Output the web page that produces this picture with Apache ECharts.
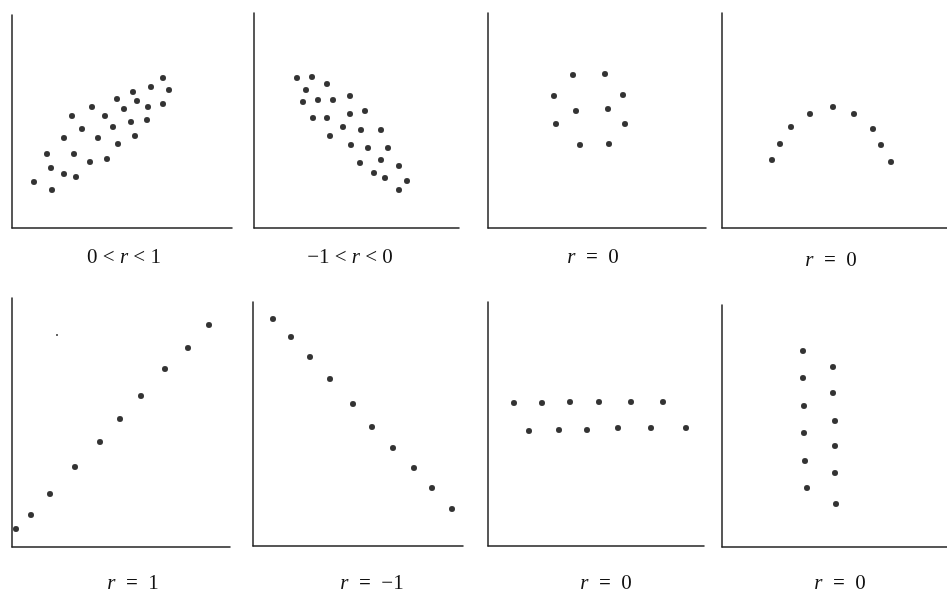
<!DOCTYPE html>
<html><head><meta charset="utf-8">
<script src="https://cdn.jsdelivr.net/npm/echarts@6/dist/echarts.min.js"></script>
<style>html,body{margin:0;padding:0;background:#fff}#c{width:947px;height:594px}</style>
</head><body><div id="c"></div>
<script>
// Panel data (x, y) in each panel's own units
const p1 = [[151,150],[139,141],[157,138],[121,136],[105,129],[125,127],[151,124],[80,121],[136,121],[112,119],[60,112],[93,112],[135,108],[119,106],[101,101],[70,99],[52,90],[86,90],[123,92],[106,84],[35,74],[62,74],[95,69],[78,66],[39,60],[52,54],[64,51],[22,46],[40,38]];
const p2 = [[43,150],[58,151],[73,144],[52,138],[49,126],[64,128],[79,128],[96,132],[111,117],[59,110],[73,110],[96,114],[89,101],[107,98],[127,98],[76,92],[97,83],[114,80],[134,80],[106,65],[127,68],[145,62],[120,55],[131,50],[153,47],[145,38]];
const p3 = [[85,153],[117,154],[66,132],[135,133],[88,117],[120,119],[68,104],[137,104],[92,83],[121,84]];
const p4 = [[50,68],[58,84],[69,101],[88,114],[111,121],[132,114],[151,99],[159,83],[169,66]];
const p5 = [[4,18],[19,32],[38,53],[63,80],[88,105],[108,128],[129,151],[153,178],[176,199],[197,222]];
const p5speck = [[45,212]];
const p6 = [[20,227],[38,209],[57,189],[77,167],[100,142],[119,119],[140,98],[161,78],[179,58],[199,37]];
const p7 = [[26,143],[54,143],[82,144],[111,144],[143,144],[175,144],[41,115],[71,116],[99,116],[130,118],[163,118],[198,118]];
const p8 = [[81,196],[81,169],[82,141],[82,114],[83,86],[85,59],[111,180],[111,154],[113,126],[113,101],[113,74],[114,43]];
const labels = [['0 < ','r',' < 1'],['\u22121 < ','r',' < 0'],['','r','\u2002=\u20020'],['','r','\u2002=\u20020'],['','r','\u2002=\u20021'],['','r','\u2002=\u2002\u22121'],['','r','\u2002=\u20020'],['','r','\u2002=\u20020']];
const panelData = [p1,p2,p3,p4,p5,p6,p7,p8];

// layout: [left, top, width, height, labelX, labelY]
const layout = [
  [12,15,220,213,124,257],
  [254,13,205,215,350,257],
  [488,13,218,215,593,257],
  [722,13,225,215,831,260],
  [12,298,218,249,133,583],
  [253,302,210,244,372,583],
  [488,302,216,244,606,583],
  [722,305,225,242,840,583]
];

const grid=[],xAxis=[],yAxis=[],series=[],graphic=[];
const axLine = {show:true,onZero:false,lineStyle:{color:'#222',width:1.5}};
const ff = '"Liberation Serif","Times New Roman",serif';
layout.forEach((L,i)=>{
  grid.push({left:L[0],top:L[1],width:L[2],height:L[3],containLabel:false});
  xAxis.push({type:'value',gridIndex:i,min:0,max:L[2],axisLine:axLine,axisTick:{show:false},axisLabel:{show:false},splitLine:{show:false}});
  yAxis.push({type:'value',gridIndex:i,min:0,max:L[3],axisLine:axLine,axisTick:{show:false},axisLabel:{show:false},splitLine:{show:false}});
  series.push({type:'scatter',xAxisIndex:i,yAxisIndex:i,data:panelData[i],symbolSize:6,itemStyle:{color:'#000'},silent:true});
  const t = labels[i];
  graphic.push({type:'text',x:L[4],y:L[5],style:{
    text:(t[0]?'{n|'+t[0]+'}':'')+'{i|'+t[1]+'}{n|'+t[2]+'}',
    align:'center',verticalAlign:'middle',
    rich:{n:{fontFamily:ff,fontSize:21,fill:'#111'},i:{fontFamily:ff,fontStyle:'italic',fontSize:21,fill:'#111'}}
  }});
});
series.push({type:'scatter',xAxisIndex:4,yAxisIndex:4,data:p5speck,symbolSize:2,itemStyle:{color:'#000'},silent:true});

const chart = echarts.init(document.getElementById('c'));
chart.setOption({animation:false,backgroundColor:'#fff',grid,xAxis,yAxis,series,graphic});
</script></body></html>
